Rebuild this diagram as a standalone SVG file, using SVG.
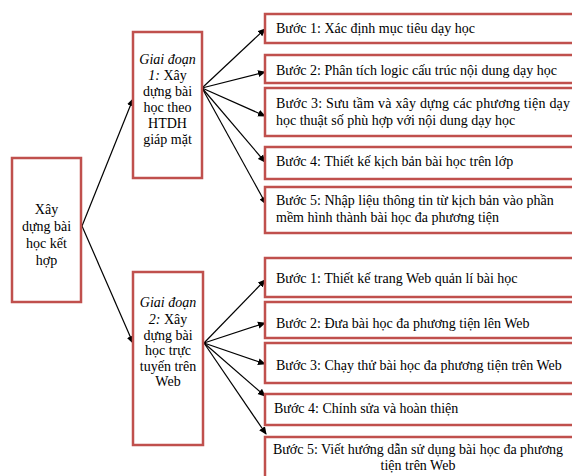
<svg xmlns="http://www.w3.org/2000/svg" width="572" height="476" viewBox="0 0 572 476">
<defs>
<marker id="ah" markerWidth="8" markerHeight="8" refX="7" refY="4" orient="auto" markerUnits="userSpaceOnUse">
<path d="M0,0.5 L8,4 L0,7.5 Z" fill="#000"/>
</marker>
<style>
.box{fill:#fff;stroke:#C0504D;stroke-width:2.5}
.t{font-family:"Liberation Serif","Times New Roman",serif;font-size:14px;fill:#000}
.c{font-family:"Liberation Serif","Times New Roman",serif;font-size:14px;fill:#000;text-anchor:middle}
.ln{stroke:#000;stroke-width:1.2;fill:none;marker-end:url(#ah)}
</style>
</defs>
<rect width="572" height="476" fill="#fff"/>
<g id="connectors">
<line class="ln" x1="82" y1="226" x2="133" y2="99"/>
<line class="ln" x1="82" y1="226" x2="133" y2="343"/>
<line class="ln" x1="202" y1="88" x2="265" y2="29"/>
<line class="ln" x1="202" y1="88" x2="265" y2="72"/>
<line class="ln" x1="202" y1="88" x2="265" y2="116"/>
<line class="ln" x1="202" y1="88" x2="265" y2="162"/>
<line class="ln" x1="202" y1="88" x2="266" y2="204"/>
<line class="ln" x1="204" y1="343" x2="265" y2="280"/>
<line class="ln" x1="204" y1="343" x2="265" y2="323"/>
<line class="ln" x1="204" y1="343" x2="265" y2="364"/>
<line class="ln" x1="204" y1="343" x2="265" y2="396"/>
<line class="ln" x1="204" y1="343" x2="266" y2="434"/>
</g>
<g id="root">
<rect class="box" x="12" y="158" width="69" height="144"/>
<text class="c" x="46.5" y="214">Xây</text>
<text class="c" x="46.5" y="231">dựng bài</text>
<text class="c" x="46.5" y="248">học kết</text>
<text class="c" x="46.5" y="265">hợp</text>
</g>
<g id="stage1">
<rect class="box" x="133" y="32" width="69" height="146"/>
<text class="c" x="167.5" y="64" font-style="italic">Giai đoạn</text>
<text class="c" x="167.5" y="80"><tspan font-style="italic">1:</tspan> Xây</text>
<text class="c" x="167.5" y="96">dựng  bài</text>
<text class="c" x="167.5" y="112">học theo</text>
<text class="c" x="167.5" y="128">HTDH</text>
<text class="c" x="167.5" y="144">giáp mặt</text>
</g>
<g id="stage2">
<rect class="box" x="133" y="272" width="70" height="173"/>
<text class="c" x="168" y="307" font-style="italic">Giai đoạn</text>
<text class="c" x="168" y="324"><tspan font-style="italic">2:</tspan> Xây</text>
<text class="c" x="168" y="340">dựng bài</text>
<text class="c" x="168" y="355">học trực</text>
<text class="c" x="168" y="371">tuyến trên</text>
<text class="c" x="168" y="386">Web</text>
</g>
<g id="s1b1">
<rect class="box" x="265" y="14" width="310" height="29"/>
<text class="t" x="276" y="33">Bước 1: Xác định mục tiêu dạy học</text>
</g>
<g id="s1b2">
<rect class="box" x="265" y="55" width="310" height="28"/>
<text class="t" x="276" y="75">Bước 2: Phân tích logic cấu trúc nội dung dạy học</text>
</g>
<g id="s1b3">
<rect class="box" x="265" y="88" width="310" height="48"/>
<text class="t" x="276" y="108" textLength="294" lengthAdjust="spacing">Bước 3: Sưu tầm và xây dựng các phương tiện dạy</text>
<text class="t" x="276" y="125">học thuật số phù hợp với nội dung dạy học</text>
</g>
<g id="s1b4">
<rect class="box" x="265" y="147" width="310" height="32"/>
<text class="t" x="276" y="166">Bước 4: Thiết kế kịch bản bài học trên lớp</text>
</g>
<g id="s1b5">
<rect class="box" x="265" y="187" width="310" height="46"/>
<text class="t" x="276" y="205">Bước 5: Nhập liệu thông tin từ kịch bản vào phần</text>
<text class="t" x="276" y="222">mềm hình thành bài học đa phương tiện</text>
</g>
<g id="s2b1">
<rect class="box" x="265" y="258" width="310" height="39"/>
<text class="t" x="276" y="283">Bước 1: Thiết kế trang Web quản lí bài học</text>
</g>
<g id="s2b2">
<rect class="box" x="265" y="302" width="310" height="36"/>
<text class="t" x="276" y="328">Bước 2: Đưa bài học đa phương tiện lên Web</text>
</g>
<g id="s2b3">
<rect class="box" x="265" y="343" width="310" height="40"/>
<text class="t" x="276" y="370">Bước 3: Chạy thử bài học đa phương tiện trên Web</text>
</g>
<g id="s2b4">
<rect class="box" x="265" y="394" width="310" height="31"/>
<text class="t" x="274" y="413">Bước 4: Chỉnh sửa và hoàn thiện</text>
</g>
<g id="s2b5">
<rect class="box" x="265" y="437" width="310" height="45"/>
<text class="t" x="418" y="454" text-anchor="middle">Bước 5: Viết hướng dẫn sử dụng bài học đa phương</text>
<text class="t" x="418" y="470" text-anchor="middle">tiện trên Web</text>
</g>
</svg>
